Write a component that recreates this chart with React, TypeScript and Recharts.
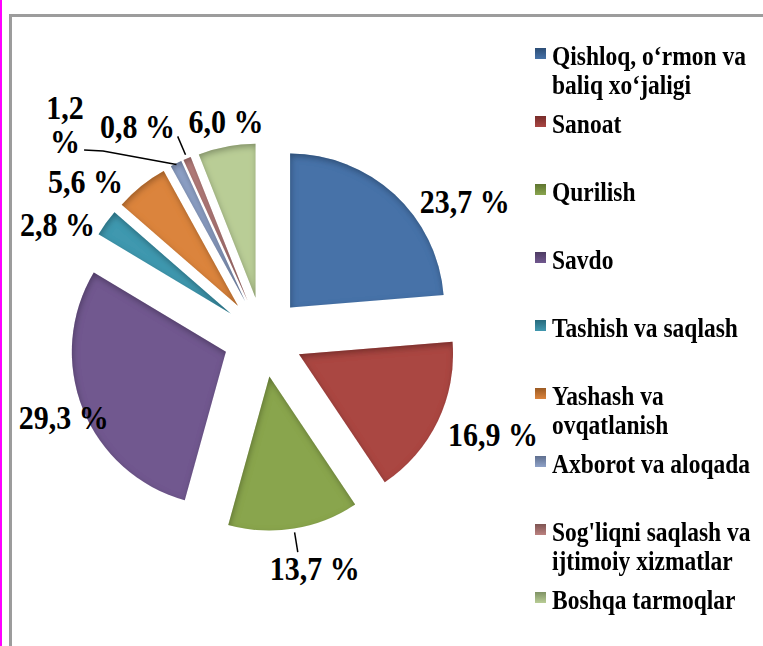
import React from 'react';
import { PieChart, Pie, Cell, Sector, Legend } from 'recharts';

const categories = [
  'Qishloq, o‘rmon va baliq xo‘jaligi',
  'Sanoat',
  'Qurilish',
  'Savdo',
  'Tashish va saqlash',
  'Yashash va ovqatlanish',
  'Axborot va aloqada',
  "Sog'liqni saqlash va ijtimoiy xizmatlar",
  'Boshqa tarmoqlar',
];
const shares = [23.7, 16.9, 13.7, 29.3, 2.8, 5.6, 1.2, 0.8, 6.0];
const valueLabels = ['23,7 %', '16,9 %', '13,7 %', '29,3 %', '2,8 %', '5,6 %', '1,2 %', '0,8 %', '6,0 %'];

const sliceColors = ['#4672A8', '#AA4643', '#89A54E', '#71588F', '#4198AF', '#DB843D', '#8FA2C8', '#BC8280', '#B9CD96'];
const legendColors = ['#2C4D75', '#772C2A', '#5F7530', '#4D3B62', '#276A7C', '#9B5A23', '#5F6F8F', '#7E5452', '#7F9264'];

// layout constants (not data)
const FONT = "'Liberation Serif', 'Times New Roman', serif";
const RAD = Math.PI / 180;
const EXPLODE = 40;
const STRETCH = 1.12;
const LABEL_R = [243, 250, 238, 215, 234, 236, 290, 245, 218];
const LABEL_DA = [13.5, -2.7, -3.4, -0.3, -7.4, -9.9, -16.4, -7.8, 1];

const data = categories.map((name, i) => ({ name, value: shares[i], label: valueLabels[i] }));

function polar(cx: number, cy: number, r: number, clockFromTop: number) {
  return { x: cx + r * Math.sin(clockFromTop * RAD), y: cy - r * Math.cos(clockFromTop * RAD) };
}

function ExplodedSector(props: any) {
  const { cx, cy, midAngle } = props;
  const dx = EXPLODE * Math.cos(-midAngle * RAD);
  const dy = EXPLODE * Math.sin(-midAngle * RAD);
  return <Sector {...props} cx={cx + dx} cy={cy + dy} stroke="none" filter="url(#bevel)" />;
}

function renderLabel(props: any) {
  const { cx, cy, midAngle, index } = props;
  const a = 90 - midAngle;
  const p = polar(cx, cy, LABEL_R[index], a + LABEL_DA[index]);
  const text = valueLabels[index];
  const common = {
    fontFamily: FONT,
    fontWeight: 700,
    fontSize: 30,
    fill: '#000',
    textAnchor: 'middle' as const,
    dominantBaseline: 'central' as const,
  };
  let line: React.ReactNode = null;
  if (index === 2 || index === 7) {
    const p1 = polar(cx, cy, 198, a);
    const p2 = polar(cx, cy, 218, a);
    line = <line x1={p1.x} y1={p1.y} x2={p2.x} y2={p2.y} stroke="#000" strokeWidth={1.5} />;
  }
  if (index === 6) {
    const pe = polar(cx, cy, 193, a);
    line = (
      <polyline
        points={`${p.x + 19},${p.y + 25} ${p.x + 38},${p.y + 26} ${pe.x},${pe.y}`}
        fill="none"
        stroke="#000"
        strokeWidth={1.5}
      />
    );
    const [first, second] = text.split(' ');
    return (
      <g>
        {line}
        <g transform={`translate(${p.x},${p.y}) scale(1,${STRETCH})`}>
          <text {...common} x={0} y={-15.3}>{first}</text>
          <text {...common} x={0} y={15.3}>{second}</text>
        </g>
      </g>
    );
  }
  return (
    <g>
      {line}
      <g transform={`translate(${p.x},${p.y}) scale(1,${STRETCH})`}>
        <text {...common} x={0} y={0}>
          {text}
        </text>
      </g>
    </g>
  );
}

function LegendContent() {
  return (
    <div style={{ position: 'relative', width: 228, height: 646 }}>
      {categories.map((name, i) => {
        const center = 56 + 68 * i;
        return (
          <div key={name} style={{ position: 'absolute', left: 0, top: center - 13, width: 228 }}>
            <div
              style={{
                position: 'absolute',
                left: 0,
                top: 5,
                width: 11,
                height: 11,
                background: `linear-gradient(${legendColors[i]}, ${sliceColors[i]})`,
              }}
            />
            <div
              style={{
                marginLeft: 17,
                width: 211,
                fontFamily: FONT,
                fontWeight: 700,
                fontSize: 23.5,
                lineHeight: '26px',
                color: '#000',
                whiteSpace: 'normal',
                textAlign: 'left',
                transform: `scale(1, ${STRETCH})`,
                transformOrigin: '0 13px',
              }}
            >
              {name}
            </div>
          </div>
        );
      })}
    </div>
  );
}

export default function App() {
  return (
    <div style={{ position: 'absolute', left: 0, top: 0, width: 763, height: 646, background: '#fff', overflow: 'hidden' }}>
      <div style={{ position: 'absolute', left: 0, top: 0, width: 2, height: 646, background: '#FF00FF' }} />
      <div
        style={{
          position: 'absolute',
          left: 9,
          top: 14,
          width: 800,
          height: 700,
          borderLeft: '3px solid #9C9C9C',
          borderTop: '3px solid #9C9C9C',
        }}
      />
      <div style={{ position: 'absolute', left: 0, top: 0 }}>
        <PieChart width={763} height={646}>
          <defs>
            <filter id="bevel" x="-10%" y="-10%" width="120%" height="120%">
              <feComponentTransfer in="SourceAlpha" result="inv">
                <feFuncA type="table" tableValues="1 0" />
              </feComponentTransfer>
              <feGaussianBlur in="inv" stdDeviation="3" result="blur" />
              <feOffset in="blur" dx="1" dy="3" result="off" />
              <feFlood floodColor="#000" floodOpacity="0.55" result="col" />
              <feComposite in="col" in2="off" operator="in" result="shadow" />
              <feComposite in="shadow" in2="SourceAlpha" operator="in" result="inner" />
              <feMerge>
                <feMergeNode in="SourceGraphic" />
                <feMergeNode in="inner" />
              </feMerge>
            </filter>
          </defs>
          <Pie
            data={data}
            dataKey="value"
            nameKey="name"
            cx={258}
            cy={332}
            outerRadius={154}
            startAngle={90}
            endAngle={-270}
            isAnimationActive={false}
            shape={ExplodedSector}
            activeShape={ExplodedSector}
            inactiveShape={ExplodedSector}
            label={renderLabel}
            labelLine={false}
            stroke="none"
          >
            {data.map((d, i) => (
              <Cell key={d.name} fill={sliceColors[i]} />
            ))}
          </Pie>
          <Legend
            content={LegendContent}
            wrapperStyle={{ position: 'absolute', left: 535, top: 0, width: 228, height: 646 }}
          />
        </PieChart>
      </div>
    </div>
  );
}
